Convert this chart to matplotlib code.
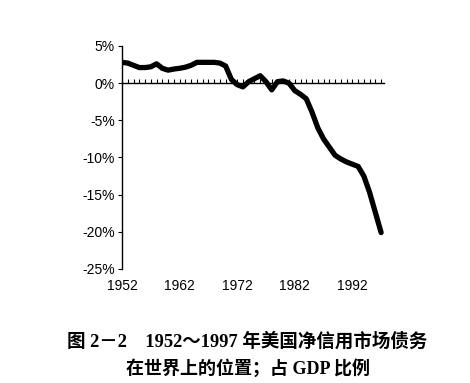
import matplotlib
matplotlib.use("Agg")
import matplotlib.pyplot as plt
from matplotlib.ticker import MultipleLocator, FixedLocator

years = list(range(1952, 1998))
values = [2.8, 2.7, 2.4, 2.1, 2.1, 2.2, 2.6, 2.0, 1.75, 1.9,
          2.0, 2.15, 2.4, 2.8, 2.8, 2.8, 2.8, 2.7, 2.3, 0.5,
          -0.2, -0.5, 0.2, 0.6, 1.0, 0.2, -0.9, 0.2, 0.3, 0.0,
          -1.0, -1.5, -2.1, -3.9, -6.0, -7.5, -8.6, -9.7, -10.2, -10.6,
          -10.9, -11.2, -12.5, -14.7, -17.4, -20.1]
xtick_years = [1952, 1962, 1972, 1982, 1992]
ytick_vals = [5, 0, -5, -10, -15, -20, -25]
ytick_labels = ["5%", "0%", "-5%", "-10%", "-15%", "-20%", "-25%"]
caption1 = "图 2－2　1952～1997 年美国净信用市场债务"
caption2 = "在世界上的位置；占 GDP 比例"

W, H = 470, 383
fig = plt.figure(figsize=(W / 100, H / 100), dpi=100)
ax = fig.add_axes([122 / W, 1 - 269 / H, (384 - 122) / W, (269 - 46) / H])

ax.plot(years, values, color="black", lw=3.8, solid_joinstyle="round",
        solid_capstyle="round", zorder=3)

ax.set_xlim(1952, 1997.5)
ax.set_ylim(-25, 5)

for s in ["top", "right"]:
    ax.spines[s].set_visible(False)
ax.spines["left"].set_linewidth(1.0)
ax.spines["bottom"].set_position(("data", 0))
ax.spines["bottom"].set_linewidth(1.0)

ax.xaxis.set_major_locator(FixedLocator([]))
ax.xaxis.set_minor_locator(MultipleLocator(1))
ax.tick_params(axis="x", which="minor", direction="in", length=3, width=0.8)
ax.tick_params(axis="x", which="both", labelbottom=False)

ax.set_yticks(ytick_vals)
ax.set_yticklabels(ytick_labels, fontfamily="Liberation Sans", fontsize=10)
ax.tick_params(axis="y", direction="out", length=3, width=0.8, pad=2)

sec = ax.secondary_xaxis("bottom")
sec.set_xticks(xtick_years)
sec.set_xticklabels([str(y) for y in xtick_years], fontfamily="Liberation Sans", fontsize=10)
sec.tick_params(length=0, pad=7)
sec.spines["bottom"].set_visible(False)

fam = ["Liberation Serif", "Noto Sans CJK SC"]
fig.text(247 / W, 1 - 341 / H, caption1, ha="center", va="center",
         fontsize=13.3, fontweight="bold", family=fam)
fig.text(248 / W, 1 - 368 / H, caption2, ha="center", va="center",
         fontsize=13, fontweight="bold", family=fam)

fig.savefig("out.png", dpi=100)
